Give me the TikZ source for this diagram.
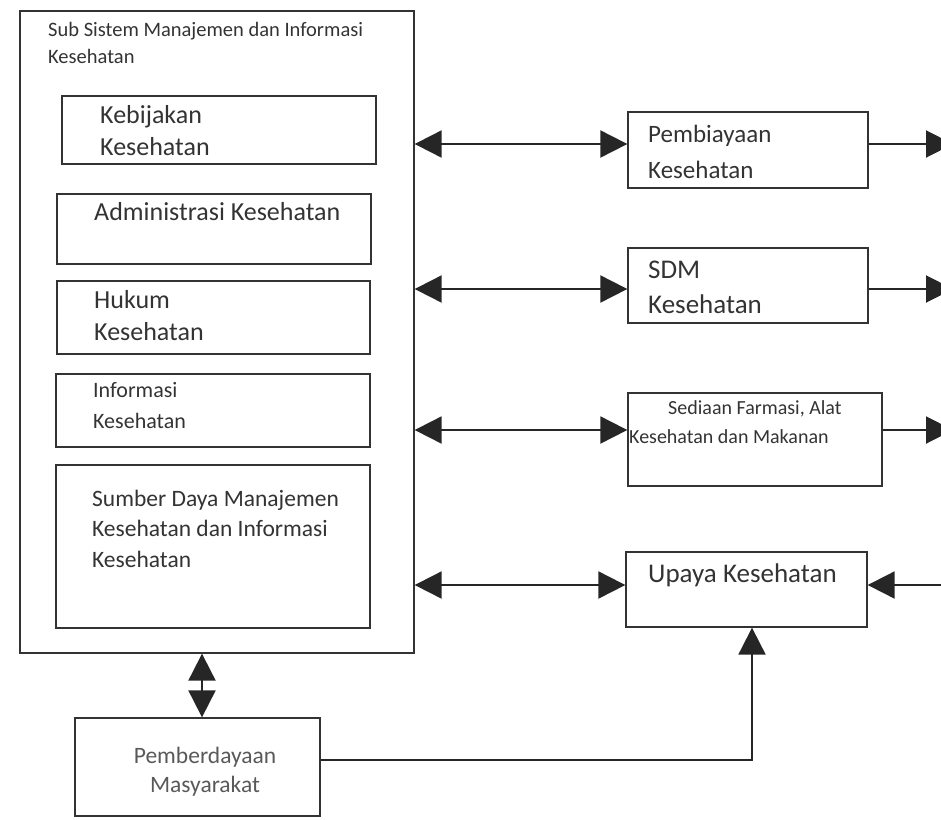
\documentclass[tikz,border=0pt]{standalone}
\usepackage{fontspec}
\setmainfont{Carlito}
\usetikzlibrary{positioning,arrows.meta}
\newcommand{\fsz}[2]{\fontsize{#1}{#2}\selectfont}

\begin{document}
\begin{tikzpicture}[x=1pt, y=-1pt,
  box/.style={draw=black!80, line width=1.3pt, rectangle, inner sep=0},
  txt/.style={inner sep=0, align=left, text=black!80, anchor=base west},
  arr/.style={-{Triangle[length=27pt,width=27pt]}, line width=2pt, draw=black!85},
  dbl/.style={{Triangle[length=27pt,width=27pt]}-{Triangle[length=27pt,width=27pt]}, line width=2pt, draw=black!85}]
\useasboundingbox (0,0) rectangle (941,819);

% left block
\node[box, minimum width=394pt, minimum height=642pt] (outer) at (217,332) {};
\node[box, minimum width=314pt, minimum height=68pt] (kebijakan) at (219,130) {};
\node[box, minimum width=314pt, minimum height=70pt] (administrasi) at (214,229) {};
\node[box, minimum width=313pt, minimum height=73pt] (hukum) at (213.5,317.5) {};
\node[box, minimum width=314pt, minimum height=73pt] (informasi) at (213,410.5) {};
\node[box, minimum width=314pt, minimum height=163pt] (sumber) at (213,546.5) {};
\node[box, minimum width=245pt, minimum height=98pt] (pemberdayaan) at (197.5,767) {};

% right block
\node[box, minimum width=240pt, minimum height=76pt] (pembiayaan) at (748,150) {};
\node[box, minimum width=240pt, minimum height=75pt] (sdm) at (748,285.5) {};
\node[box, minimum width=254pt, minimum height=93pt] (sediaan) at (755,439.5) {};
\node[box, minimum width=241pt, minimum height=75pt] (upaya) at (746.5,589.5) {};

% texts (placed by the baseline of their last line)
\node[txt, font=\fsz{20.5}{27}] (outer-t) at (48,63) {Sub Sistem Manajemen dan Informasi\\Kesehatan};
\node[txt, font=\fsz{26}{32}] (kebijakan-t) at (100,155) {Kebijakan\\Kesehatan};
\node[txt, font=\fsz{26}{32}] (administrasi-t) at (94,220) {Administrasi Kesehatan};
\node[txt, font=\fsz{26}{32}] (hukum-t) at (94,340) {Hukum\\Kesehatan};
\node[txt, font=\fsz{22}{31}] (informasi-t) at (93,428) {Informasi\\Kesehatan};
\node[txt, font=\fsz{23.5}{30.5}] (sumber-t) at (92,567) {Sumber Daya Manajemen\\Kesehatan dan Informasi\\Kesehatan};
\node[txt, font=\fsz{23.5}{29}, align=center, anchor=base, text=black!65] (pemberdayaan-t) at (205,792) {Pemberdayaan\\Masyarakat};
\node[txt, font=\fsz{25}{36}] (pembiayaan-t) at (648,178) {Pembiayaan\\Kesehatan};
\node[txt, font=\fsz{27}{35}] (sdm-t) at (648,313) {SDM\\Kesehatan};
\node[txt, font=\fsz{20}{29}] (sediaan-t) at (629,443) {\hspace*{39pt}Sediaan Farmasi, Alat\\Kesehatan dan Makanan};
\node[txt, font=\fsz{27}{32}] (upaya-t) at (648,582) {Upaya Kesehatan};

% free ends at the right border
\coordinate (out1) at (953,144);
\coordinate (out2) at (953,289);
\coordinate (out3) at (953,430);
\coordinate (in4) at (945,585);

% connectors
\draw[dbl] (outer.east |- 0,144) -- (pembiayaan.west |- 0,144);
\draw[dbl] (outer.east |- 0,289) -- (sdm.west |- 0,289);
\draw[dbl] (outer.east |- 0,430) -- (sediaan.west |- 0,430);
\draw[dbl] (outer.east |- 0,585) -- (upaya.west |- 0,585);
\draw[arr] (pembiayaan.east |- out1) -- (out1);
\draw[arr] (sdm.east |- out2) -- (out2);
\draw[arr] (sediaan.east |- out3) -- (out3);
\draw[arr] (in4) -- (upaya.east |- in4);
\draw[dbl] (outer.south -| 202,0) -- (pemberdayaan.north -| 202,0);
\draw[arr] (pemberdayaan.east |- 0,760) -| (upaya.south -| 752,0);
\end{tikzpicture}
\end{document}
